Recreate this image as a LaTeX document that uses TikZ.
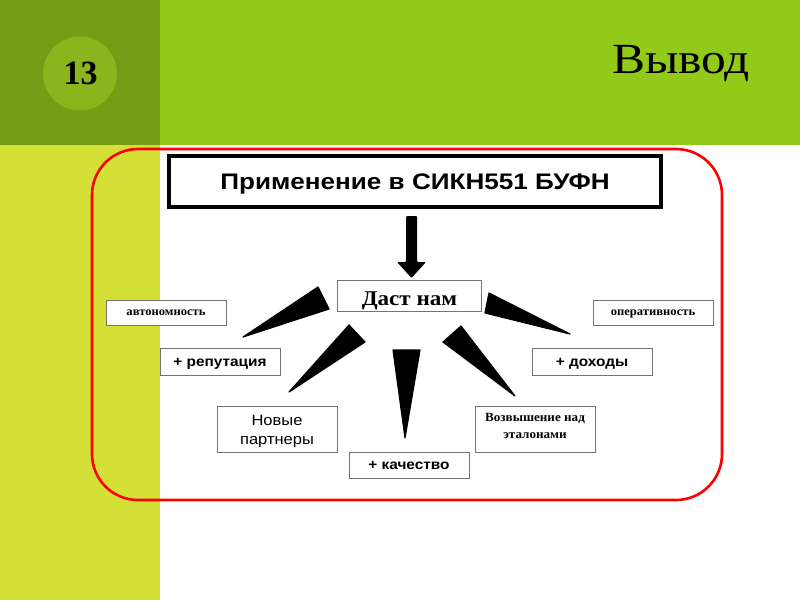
\documentclass[tikz,border=0pt]{standalone}
\usepackage{graphicx}
\usepackage{fontspec}
\setmainfont{Liberation Serif}
\setsansfont{Liberation Sans}
\newcommand{\stretchx}[2]{\scalebox{#1}[1]{#2}}
\begin{document}
\begin{tikzpicture}[x=1pt,y=-1pt,
  box/.style={draw=black!55,line width=0.8pt,fill=white,inner sep=0pt},
  lbl/.style={anchor=base,inner sep=0pt},
  wedge/.style={fill=black,draw=black,line width=1.2pt,line join=round},
  sbold/.style={lbl,font=\sffamily\bfseries\fontsize{14}{16}\selectfont},
  tiny/.style={lbl,font=\rmfamily\bfseries\fontsize{12}{14}\selectfont}]
\definecolor{olive}{HTML}{769C16}
\definecolor{topgreen}{HTML}{92CA1A}
\definecolor{strip}{HTML}{D5E036}
\definecolor{circ}{HTML}{8AB51C}
\useasboundingbox (0,0) rectangle (800,600);
\fill[white] (0,0) rectangle (800,600);
\fill[olive] (0,0) rectangle (160,145);
\fill[topgreen] (160,0) rectangle (800,145);
\fill[strip] (0,145) rectangle (160,600);
\fill[circ] (80,73.5) circle (37);
\node[lbl,font=\rmfamily\bfseries\fontsize{34}{36}\selectfont] (num) at (80.5,84.5) {13};
\node[font=\rmfamily\fontsize{43}{48}\selectfont,anchor=base east,inner sep=0pt] (title) at (750,73) {\stretchx{1.15}{Вывод}};
% red frame
\draw[red,line width=2.6pt,rounded corners=46pt] (92,149) rectangle (722,500);
% top box
\node[draw=black,line width=3.5pt,fill=white,minimum width=492pt,minimum height=51pt,inner sep=0pt] (top) at (415,181.5) {};
\node[lbl,font=\sffamily\bfseries\fontsize{22.5}{26}\selectfont] (toptext) at (415,189) {\stretchx{1.16}{Применение в СИКН551 БУФН}};
% central
\node[box,minimum width=144pt,minimum height=31pt] (dast) at (409.5,296) {};
\node[lbl,font=\rmfamily\bfseries\fontsize{21}{24}\selectfont] (dasttext) at (409.5,305.5) {\stretchx{1.1}{Даст нам}};
% arrow
\fill[black,rounded corners=1pt] (406,216) -- (417,216) -- (417,262) -- (426,262) -- (411.5,278) -- (397,262) -- (406,262) -- cycle;
% boxes
\node[box,minimum width=120pt,minimum height=25pt] (avt) at (166,312.5) {};
\node[tiny] (avtt) at (166,315) {\stretchx{1.05}{автономность}};
\node[box,minimum width=120pt,minimum height=25pt] (oper) at (653,312.5) {};
\node[tiny] (opert) at (653,315) {\stretchx{1.05}{оперативность}};
\node[box,minimum width=120pt,minimum height=27pt] (rep) at (220,361.5) {};
\node[sbold] (rept) at (220,366) {\stretchx{1.1}{+ репутация}};
\node[box,minimum width=120pt,minimum height=27pt] (doh) at (592,361.5) {};
\node[sbold] (doht) at (592,366) {\stretchx{1.1}{+ доходы}};
\node[box,minimum width=120pt,minimum height=46pt] (nov) at (277,429) {};
\node[lbl,font=\sffamily\fontsize{15}{18}\selectfont] (nov1) at (277,425.5) {\stretchx{1.1}{Новые}};
\node[lbl,font=\sffamily\fontsize{15}{18}\selectfont] (nov2) at (277,444) {\stretchx{1.1}{партнеры}};
\node[box,minimum width=120pt,minimum height=46pt] (voz) at (535,429) {};
\node[lbl,font=\rmfamily\bfseries\fontsize{12.5}{16}\selectfont] (voz1) at (535,421) {\stretchx{1.05}{Возвышение над}};
\node[lbl,font=\rmfamily\bfseries\fontsize{12.5}{16}\selectfont] (voz2) at (535,438) {\stretchx{1.05}{эталонами}};
\node[box,minimum width=120pt,minimum height=26pt] (kach) at (409,465) {};
\node[sbold] (kacht) at (409,469.5) {\stretchx{1.1}{+ качество}};
% wedges
\draw[wedge] (318,287) -- (329,309) -- (243,337) -- cycle;
\draw[wedge] (349,325) -- (365,342) -- (289,392) -- cycle;
\draw[wedge] (393,350) -- (420,350) -- (405,438) -- cycle;
\draw[wedge] (443,342) -- (461,326) -- (515,396) -- cycle;
\draw[wedge] (489,293) -- (485,313) -- (570,334) -- cycle;
\end{tikzpicture}
\end{document}
